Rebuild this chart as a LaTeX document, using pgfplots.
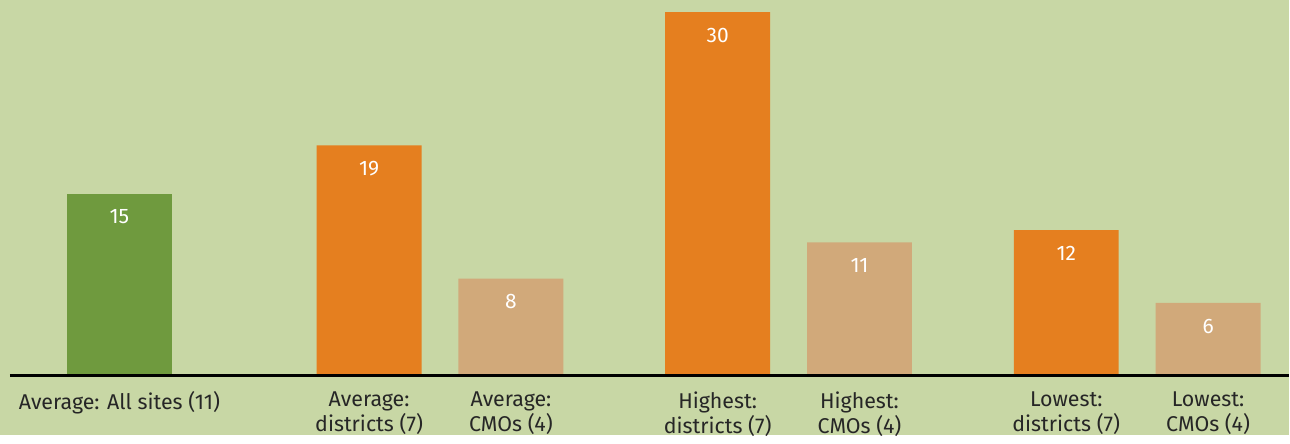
\documentclass[border=0pt]{standalone}
\usepackage{fontspec}
\setmainfont{Fira Sans}
\usepackage{pgfplots}
\pgfplotsset{compat=1.18}
\definecolor{bg}{RGB}{200,215,165}
\definecolor{gbar}{RGB}{111,154,62}
\definecolor{obar}{RGB}{229,127,31}
\definecolor{tbar}{RGB}{209,169,122}
\begin{document}
\begin{tikzpicture}
\begin{axis}[
  scale only axis, width=645pt, height=218pt,
  xmin=0, xmax=1290, ymin=-4.946, ymax=31.0,
  axis x line=middle, axis y line=none,
  x axis line style={draw=none},
  axis background/.style={fill=bg},
  xtick={119.5,369.5,511.5,718.5,860.5,1067.5,1209.5},
  xticklabels={{Average: All sites (11)},{Average:\\districts (7)},{Average:\\CMOs (4)},{Highest:\\districts (7)},{Highest:\\CMOs (4)},{Lowest:\\districts (7)},{Lowest:\\CMOs (4)}},
  xticklabel style={align=center, font=\fontsize{10.7}{12.5}\selectfont, text=black!85, yshift=-4.5pt},
  major tick length=0pt,
  ybar, bar width=52.5pt, bar shift=0pt,
  nodes near coords,
  /pgf/number format/assume math mode=true,
  every node near coord/.append style={anchor=north, yshift=-4.5pt, text=white, font=\fontsize{10.5}{12}\selectfont},
  clip=false,
]
\addplot[fill=gbar, draw=none] coordinates {(119.5,15)};
\addplot[fill=obar, draw=none] coordinates {(369.5,19) (718.5,30) (1067.5,12)};
\addplot[fill=tbar, draw=none] coordinates {(511.5,8) (860.5,11) (1209.5,6)};
\draw[black, line width=1.5pt] (axis cs:10,0) -- (axis cs:1290,0);
\end{axis}
\end{tikzpicture}
\end{document}
